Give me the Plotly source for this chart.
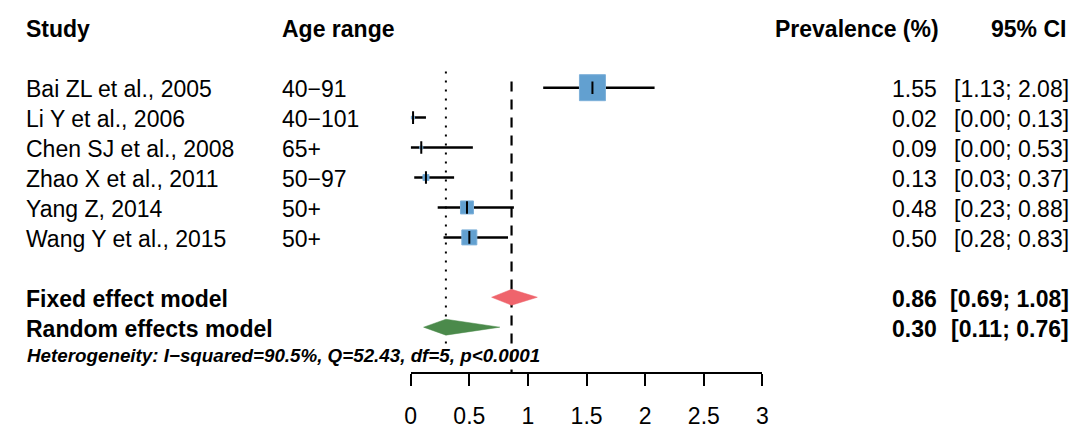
import plotly.graph_objects as go
import math

# ---- data ----
studies = ["Bai ZL et al., 2005", "Li Y et al., 2006", "Chen SJ et al., 2008",
           "Zhao X et al., 2011", "Yang Z, 2014", "Wang Y et al., 2015"]
age_ranges = ["40\u221291", "40\u2212101", "65+", "50\u221297", "50+", "50+"]
prevalence = [1.55, 0.02, 0.09, 0.13, 0.48, 0.50]
ci_low = [1.13, 0.00, 0.00, 0.03, 0.23, 0.28]
ci_high = [2.08, 0.13, 0.53, 0.37, 0.88, 0.83]
weights = [60.1, 0.8, 0.8, 3.2, 15.0, 20.0]  # relative weights (%)

model_names = ["Fixed effect model", "Random effects model"]
model_est = [0.86, 0.30]
model_low = [0.69, 0.11]
model_high = [1.08, 0.76]

heterogeneity = "Heterogeneity: I\u2212squared=90.5%, Q=52.43, df=5, p<0.0001"
x_ticks = [0, 0.5, 1, 1.5, 2, 2.5, 3]
x_tick_labels = ["0", "0.5", "1", "1.5", "2", "2.5", "3"]

# ---- layout helpers ----
W, H = 1072, 429
ROW0_PX, ROW_PX = 28, 30.15
def row_of_px(p):
    return (p - ROW0_PX) / ROW_PX

study_rows = [2 + i for i in range(len(studies))]
model_rows = [9, 10]
het_row = 11.0
FONT = "Liberation Sans, Arial, sans-serif"
FS = 23

fig = go.Figure()

# reference lines
fig.add_trace(go.Scatter(x=[model_est[1], model_est[1]], y=[row_of_px(72), row_of_px(347)],
                         mode="lines", line=dict(color="black", width=2, dash="2px,7px"),
                         hoverinfo="skip", showlegend=False))
fig.add_trace(go.Scatter(x=[model_est[0], model_est[0]], y=[row_of_px(82), row_of_px(376)],
                         mode="lines", line=dict(color="black", width=2.2, dash="10px,8px"),
                         hoverinfo="skip", showlegend=False))

# CI lines
for r, lo, hi in zip(study_rows, ci_low, ci_high):
    fig.add_trace(go.Scatter(x=[lo, hi], y=[r, r], mode="lines",
                             line=dict(color="black", width=2.5),
                             hoverinfo="skip", showlegend=False))

# squares
sizes = [max(3, 26 * math.sqrt(w / max(weights))) for w in weights]
fig.add_trace(go.Scatter(x=prevalence, y=study_rows, mode="markers",
                         marker=dict(symbol="square", size=sizes, color="#62A0D0",
                                     opacity=1, line=dict(color="#7DB0D9", width=1)),
                         showlegend=False))
# point estimate ticks
fig.add_trace(go.Scatter(x=prevalence, y=study_rows, mode="markers",
                         marker=dict(symbol="line-ns", size=9,
                                     line=dict(color="black", width=2)),
                         showlegend=False))

# diamonds
half_h = 8 / ROW_PX
colors = ["#EF646C", "#4B8A4B"]
for r, est, lo, hi, c in zip(model_rows, model_est, model_low, model_high, colors):
    fig.add_trace(go.Scatter(x=[lo, est, hi, est, lo], y=[r, r - half_h, r, r + half_h, r],
                             mode="lines", fill="toself", fillcolor=c,
                             line=dict(color=c, width=0.5), showlegend=False,
                             hoverinfo="skip"))

ann = []
def text(x_px, row, s, anchor="left", size=FS, bold=False):
    ann.append(dict(x=x_px / W, xref="paper", y=row, yref="y", text=s,
                    showarrow=False, xanchor=anchor, yanchor="middle", borderpad=0,
                    yshift=-1.5,
                    font=dict(family=FONT, size=size, color="black",
                              weight="bold" if bold else "normal")))

# headers
text(19, 0, "Study", bold=True)
text(278, 0, "Age range", bold=True)
text(945, 0, "Prevalence (%)", anchor="right", bold=True)
text(1073, 0, "95% CI", anchor="right", bold=True)

for r, s, a, p, lo, hi in zip(study_rows, studies, age_ranges, prevalence, ci_low, ci_high):
    text(19, r, s)
    text(278, r, a)
    text(943, r, f"{p:.2f}", anchor="right")
    text(1076, r, f"[{lo:.2f}; {hi:.2f}]", anchor="right")

for r, s, p, lo, hi in zip(model_rows, model_names, model_est, model_low, model_high):
    text(19, r, s, bold=True)
    text(943, r, f"{p:.2f}", anchor="right", bold=True)
    text(1076, r, f"[{lo:.2f}; {hi:.2f}]", anchor="right", bold=True)

ann.append(dict(x=20 / W, xref="paper", y=het_row - 0.05, yref="y",
                text="<b><i>" + heterogeneity + "</i></b>", showarrow=False,
                xanchor="left", yanchor="middle", borderpad=0,
                font=dict(family=FONT, size=18.8, color="black")))

fig.update_layout(
    width=W, height=H, margin=dict(l=0, r=0, t=0, b=0),
    plot_bgcolor="white", paper_bgcolor="white",
    annotations=ann,
    xaxis=dict(domain=[409.3 / W, 765.0 / W], range=[0, 3], anchor="free",
               position=1 - 376 / H, showline=True, linecolor="black", linewidth=2,
               ticks="outside", ticklen=12, tickwidth=2, tickcolor="black",
               tickvals=x_ticks, ticktext=x_tick_labels, showgrid=False,
               zeroline=False, tickfont=dict(family=FONT, size=FS, color="black"),
               ticklabelstandoff=10),
    yaxis=dict(domain=[0, 1], range=[row_of_px(H), row_of_px(0)], visible=False,
               showgrid=False, zeroline=False),
)
fig.write_html("out.html", config={"displayModeBar": False},
               post_script="document.documentElement.style.margin='0';"
                           "document.body.style.margin='0';"
                           "document.body.style.overflow='hidden';")
